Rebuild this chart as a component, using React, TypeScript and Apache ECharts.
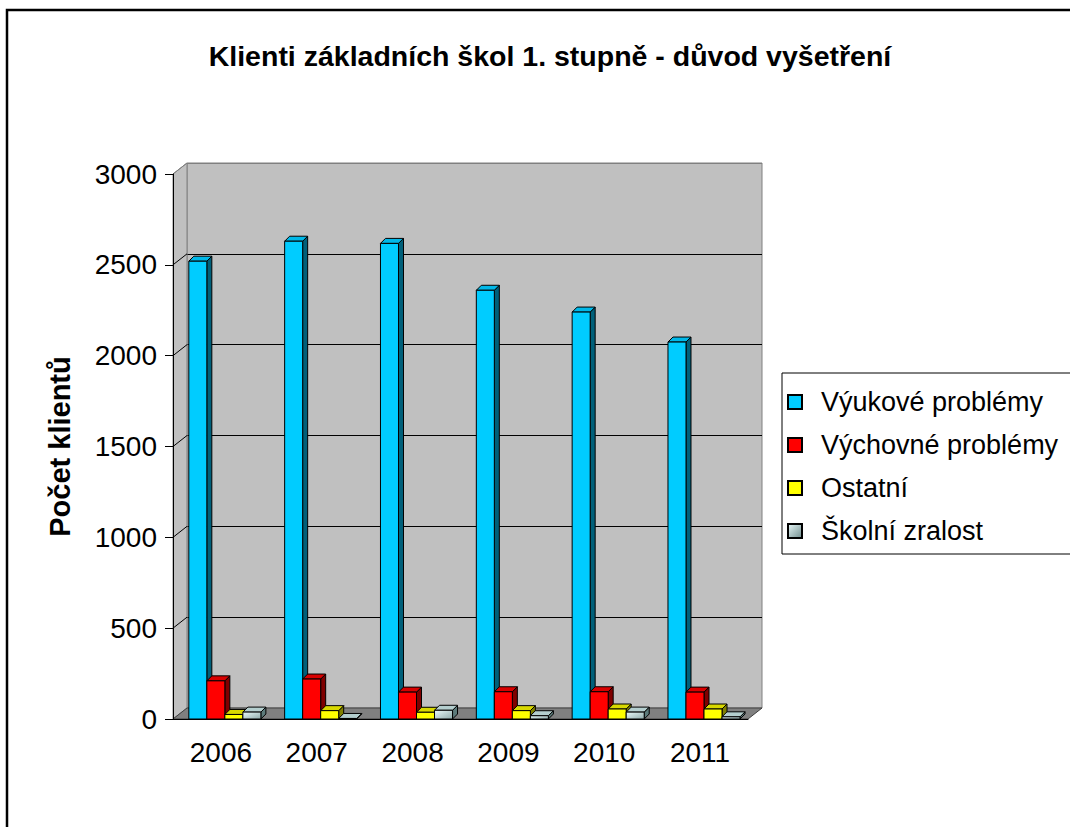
import React, { useEffect, useRef } from "react";
import * as echarts from "echarts";

const years = ["2006", "2007", "2008", "2009", "2010", "2011"];
const vyukove = [2520, 2630, 2618, 2360, 2240, 2075];
const vychovne = [210, 220, 148, 150, 150, 148];
const ostatni = [25, 46, 37, 46, 55, 55];
const skolni = [38, 3, 48, 18, 38, 12];
const seriesNames = ["Výukové problémy", "Výchovné problémy", "Ostatní", "Školní zralost"];
const yTicks = [0, 500, 1000, 1500, 2000, 2500, 3000];

const FONT = "'Liberation Sans', Arial, sans-serif";
const WALL_DX = 14;
const WALL_DY = 11;
const BAR_D = 5;

const faces = [
  { front: "#00CCFF", top: "#00B8E8", side: "#00607A" },
  { front: "#FF0000", top: "#D80000", side: "#800000" },
  { front: "#FFFF00", top: "#D8D800", side: "#808000" },
  {
    front: new echarts.graphic.LinearGradient(0, 0, 1, 1, [
      { offset: 0, color: "#EAFAFA" },
      { offset: 1, color: "#8FAAAA" },
    ]),
    top: "#B4CECE",
    side: "#5C7A7A",
  },
];

function barRenderer(sIdx: number) {
  return (params: any, api: any) => {
    const cat = api.value(0);
    const v = api.value(1);
    const top = api.coord([cat, v]);
    const base = api.coord([cat, 0]);
    const W = api.size([1, 0])[0];
    const bw = W * 0.188;
    const x0 = base[0] - W / 2 + W * 0.165 + sIdx * bw;
    const yt = top[1];
    const yb = base[1];
    const f = faces[sIdx];
    const stroke = { stroke: "#000", lineWidth: 1 };
    return {
      type: "group",
      children: [
        {
          type: "polygon",
          shape: { points: [[x0 + bw, yt], [x0 + bw + BAR_D, yt - BAR_D], [x0 + bw + BAR_D, yb - BAR_D], [x0 + bw, yb]] },
          style: { fill: f.side, ...stroke },
        },
        {
          type: "polygon",
          shape: { points: [[x0, yt], [x0 + BAR_D, yt - BAR_D], [x0 + bw + BAR_D, yt - BAR_D], [x0 + bw, yt]] },
          style: { fill: f.top, ...stroke },
        },
        {
          type: "rect",
          shape: { x: x0, y: yt, width: bw, height: yb - yt },
          style: { fill: f.front, ...stroke },
        },
      ],
    };
  };
}

function wallRenderer(params: any, api: any) {
  const cs = params.coordSys;
  const x = cs.x, y = cs.y, w = cs.width, h = cs.height;
  const children: any[] = [
    {
      type: "polygon",
      shape: { points: [[x, y], [x + WALL_DX, y - WALL_DY], [x + WALL_DX, y + h - WALL_DY], [x, y + h]] },
      style: { fill: "#C0C0C0", stroke: "#808080", lineWidth: 1 },
    },
    {
      type: "polygon",
      shape: { points: [[x, y + h], [x + WALL_DX, y + h - WALL_DY], [x + w + WALL_DX, y + h - WALL_DY], [x + w, y + h]] },
      style: { fill: "#808080", stroke: "#404040", lineWidth: 1 },
    },
  ];
  yTicks.forEach((t) => {
    if (t === 0) return;
    const yy = api.coord([0, t])[1];
    children.push({
      type: "line",
      shape: { x1: x, y1: yy, x2: x + WALL_DX, y2: yy - WALL_DY },
      style: { stroke: t === 3000 ? "#808080" : "#000", lineWidth: 1 },
    });
  });
  return { type: "group", children };
}

export default function App() {
  const ref = useRef<HTMLDivElement>(null);
  useEffect(() => {
    document.body.style.margin = "0";
    const chart = echarts.init(ref.current!, undefined, { renderer: "svg" });
    const dataSets = [vyukove, vychovne, ostatni, skolni];
    const legendColors = [
      "#00CCFF",
      "#FF0000",
      "#FFFF00",
      new echarts.graphic.LinearGradient(0, 0, 1, 1, [
        { offset: 0, color: "#E8F8F8" },
        { offset: 1, color: "#6F8C8C" },
      ]),
    ];
    chart.setOption({
      animation: false,
      textStyle: { fontFamily: FONT },
      title: {
        text: "Klienti základních škol 1. stupně - důvod vyšetření",
        left: 545,
        top: 36,
        textAlign: "center",
        textStyle: { fontSize: 28.5, fontWeight: "bold", color: "#000", fontFamily: FONT },
      },
      legend: {
        orient: "vertical",
        left: 782,
        top: 373,
        padding: [14, 40, 8, 5],
        itemGap: 13,
        itemWidth: 14,
        itemHeight: 14,
        icon: "rect",
        borderColor: "#000",
        borderWidth: 1,
        data: seriesNames,
        textStyle: { fontSize: 27, color: "#000", fontFamily: FONT, lineHeight: 30, padding: [0, 0, 0, 14] },
      },
      grid: [
        { left: 173, top: 174, width: 575, height: 545 },
        {
          left: 173 + WALL_DX,
          top: 174 - WALL_DY,
          width: 575,
          height: 545,
          show: true,
          backgroundColor: "#C0C0C0",
          borderColor: "#808080",
          borderWidth: 1,
        },
      ],
      xAxis: [
        {
          type: "category",
          gridIndex: 0,
          data: years,
          z: 10,
          axisLine: { lineStyle: { color: "#000", width: 1 } },
          axisTick: { length: 10, lineStyle: { color: "#000" } },
          axisLabel: { fontSize: 28, color: "#000", margin: 19, fontFamily: FONT },
        },
        { type: "category", gridIndex: 1, data: years, show: false },
      ],
      yAxis: [
        {
          type: "value",
          gridIndex: 0,
          min: 0,
          max: 3000,
          interval: 500,
          z: 10,
          name: "Počet klientů",
          nameLocation: "middle",
          nameGap: 99,
          nameTextStyle: { fontSize: 29, fontWeight: "bold", color: "#000", fontFamily: FONT },
          axisLine: { show: true, lineStyle: { color: "#000", width: 1 } },
          axisTick: { show: true, length: 8, lineStyle: { color: "#000" } },
          axisLabel: { fontSize: 28, color: "#000", margin: 16, fontFamily: FONT, formatter: (v: number) => String(v) },
          splitLine: { show: false },
        },
        {
          type: "value",
          gridIndex: 1,
          min: 0,
          max: 3000,
          interval: 500,
          axisLine: { show: false },
          axisTick: { show: false },
          axisLabel: { show: false },
          splitLine: {
            show: true,
            lineStyle: { color: ["#808080", "#000", "#000", "#000", "#000", "#000", "#808080"], width: 1 },
          },
        },
      ],
      graphic: [
        {
          type: "rect",
          shape: { x: 7, y: 10, width: 1200, height: 1000 },
          style: { fill: "none", stroke: "#000", lineWidth: 2.5 },
          silent: true,
        },
      ],
      series: [
        {
          type: "custom",
          name: "walls",
          xAxisIndex: 0,
          yAxisIndex: 0,
          z: 1,
          silent: true,
          data: [[0, 0]],
          encode: { x: 0, y: 1 },
          renderItem: wallRenderer,
        },
        ...dataSets.map((arr, i) => ({
          type: "custom",
          name: seriesNames[i],
          xAxisIndex: 0,
          yAxisIndex: 0,
          z: 2 + i,
          itemStyle: { color: legendColors[i], borderColor: "#000", borderWidth: 1 },
          data: arr.map((v, k) => [k, v]),
          encode: { x: 0, y: 1 },
          renderItem: barRenderer(i),
        })),
      ],
    });
    return () => chart.dispose();
  }, []);
  return <div ref={ref} style={{ width: 1070, height: 827 }} />;
}
